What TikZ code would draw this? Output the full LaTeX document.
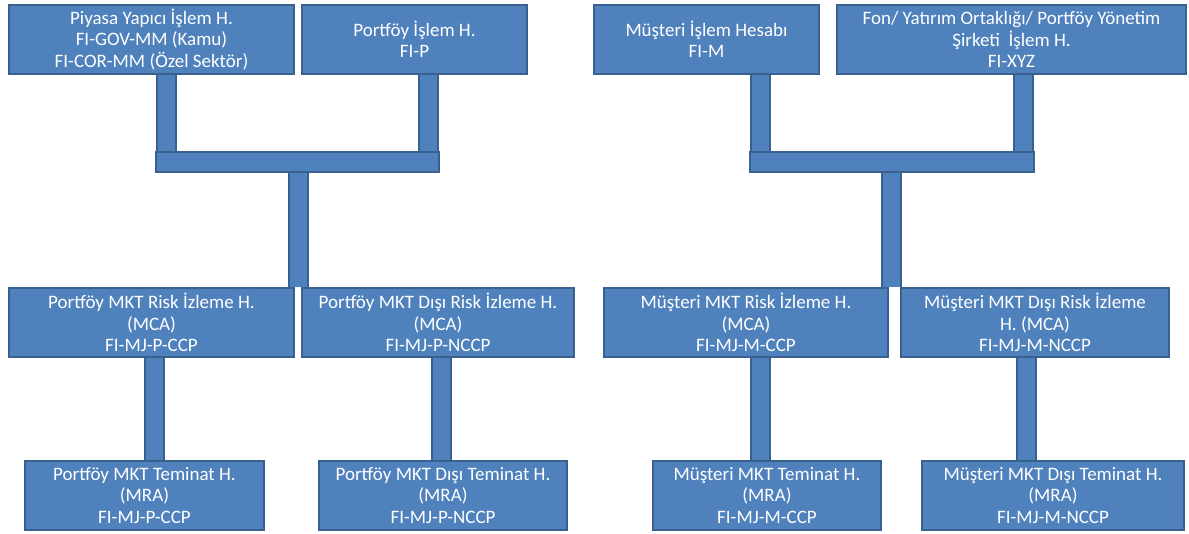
\documentclass[tikz,border=0pt]{standalone}
\usepackage{fontspec}
\setmainfont{Carlito}
\usetikzlibrary{backgrounds}
\definecolor{boxc}{HTML}{4F81BD}
\definecolor{bordc}{HTML}{3A6090}
\tikzset{
  box/.style={draw=bordc, line width=2pt, fill=boxc, text=white, align=center,
    inner sep=0pt, font=\fontsize{19}{21.5}\selectfont, minimum height=69pt},
  hbar/.style={draw=bordc, line width=2pt, fill=boxc, inner sep=0pt, minimum height=20pt},
  barline/.style={draw=bordc, line width=2pt, double=boxc, double distance=17pt, line cap=butt}
}
\begin{document}
\begin{tikzpicture}[x=1pt,y=-1pt]
\useasboundingbox (0,0) rectangle (1189,534);
% top row
\node[box, minimum width=285pt] (A) at (151.5,39.5) {Piyasa Yapıcı İşlem H.\\FI-GOV-MM (Kamu)\\FI-COR-MM (Özel Sektör)};
\node[box, minimum width=225pt] (B) at (414.5,39.5) {Portföy İşlem H.\\FI-P};
\node[box, minimum width=225pt] (E) at (706.5,39.5) {Müşteri İşlem Hesabı\\FI-M};
\node[box, minimum width=349pt] (F) at (1011.5,39.5) {Fon/ Yatırım Ortaklığı/ Portföy Yönetim\\Şirketi~ İşlem H.\\FI-XYZ};
% horizontal bars
\node[hbar, minimum width=283pt] (hb1) at (297.5,162) {};
\node[hbar, minimum width=284pt] (hb2) at (892,162) {};
% middle row
\node[box, minimum width=285pt] (C) at (151.5,322.5) {Portföy MKT Risk İzleme H.\\(MCA)\\FI-MJ-P-CCP};
\node[box, minimum width=272pt] (D) at (438,322.5) {Portföy MKT Dışı Risk İzleme H.\\(MCA)\\FI-MJ-P-NCCP};
\node[box, minimum width=284pt] (G) at (746,322.5) {Müşteri MKT Risk İzleme H.\\(MCA)\\FI-MJ-M-CCP};
\node[box, minimum width=268pt] (H) at (1035,322.5) {Müşteri MKT Dışı Risk İzleme\\H. (MCA)\\FI-MJ-M-NCCP};
% bottom row
\node[box, minimum width=239pt] (I) at (144.5,495.5) {Portföy MKT Teminat H.\\(MRA)\\FI-MJ-P-CCP};
\node[box, minimum width=248pt] (J) at (443,495.5) {Portföy MKT Dışı Teminat H.\\(MRA)\\FI-MJ-P-NCCP};
\node[box, minimum width=228pt] (K) at (767,495.5) {Müşteri MKT Teminat H.\\(MRA)\\FI-MJ-M-CCP};
\node[box, minimum width=262pt] (L) at (1053,495.5) {Müşteri MKT Dışı Teminat H.\\(MRA)\\FI-MJ-M-NCCP};
% x positions of the vertical bars
\coordinate (xa) at (166.5,0);
\coordinate (xb) at (428.5,0);
\coordinate (xe) at (760.5,0);
\coordinate (xf) at (1023.5,0);
\coordinate (xm1) at (298,0);
\coordinate (xm2) at (891.5,0);
\coordinate (xc) at (154.5,0);
\coordinate (xd) at (441,0);
\coordinate (xg) at (760.5,0);
\coordinate (xh) at (1026,0);
\begin{pgfonlayer}{background}
\draw[barline] (A.south -| xa) -- (hb1.north -| xa);
\draw[barline] (B.south -| xb) -- (hb1.north -| xb);
\draw[barline] (E.south -| xe) -- (hb2.north -| xe);
\draw[barline] (F.south -| xf) -- (hb2.north -| xf);
\draw[barline] (hb1.south -| xm1) -- (C.north -| xm1);
\draw[barline] (hb2.south -| xm2) -- (G.north -| xm2);
\draw[barline] (C.south -| xc) -- (I.north -| xc);
\draw[barline] (D.south -| xd) -- (J.north -| xd);
\draw[barline] (G.south -| xg) -- (K.north -| xg);
\draw[barline] (H.south -| xh) -- (L.north -| xh);
\end{pgfonlayer}
\end{tikzpicture}
\end{document}
